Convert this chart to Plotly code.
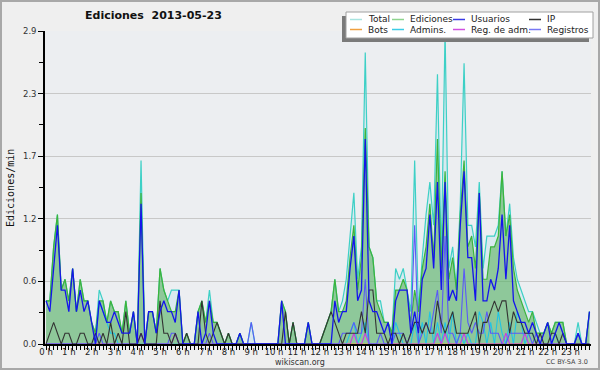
import plotly.graph_objects as go

# ---------------- data (edits per minute, 10-minute buckets) ----------------
hour_ticks = list(range(24))
hour_labels = [f"{h} h" for h in hour_ticks]
y_tick_vals = [0.0, 0.58, 1.16, 1.74, 2.32, 2.9]
y_tick_labels = ["0.0", "0.6", "1.2", "1.7", "2.3", "2.9"]

total = [
    .4, .4, .9, 1.2, .5, .6, .4, .7, .3, .6, .4, .4,
    .2, .1, .5, .4, .2, .4, .3, .3, .1, .4, .1, .3,
    0, 1.7, 0, .3, .3, .1, .7, .5, .4, .5, .5, .5,
    0, .1, 0, 0, .3, .4, .2, .5, .2, .2, .1, 0,
    .1, 0, 0, .1, 0, 0, .2, 0, 0, 0, 0, 0,
    0, 0, .4, .3, 0, .2, 0, 0, 0, .2, 0, 0,
    0, .1, .2, .3, .6, .3, .4, .6, 1.0, 1.4, .6, .9,
    2.7, .9, .8, .4, .4, .2, .2, .1, .7, .6, .7, .5,
    .3, 1.7, .3, .8, 1.2, 1.5, 1.1, 2.5, .8, 2.9, .7, .9,
    .5, 1.3, 2.6, 1.1, 1.1, .9, 1.5, .7, 1.0, 1.0, 1.0, 1.1,
    1.6, 1.0, 1.3, .8, .6, .5, .4, .3, .3, .2, .1, .1,
    .2, .1, .2, .2, .2, 0, 0, 0, .2, 0, 0, .3,
]
ediciones = [
    .4, .4, .9, 1.2, .5, .6, .4, .7, .3, .6, .4, .4,
    .2, .1, .4, .4, .2, .4, .3, .3, .1, .4, .1, .3,
    0, 1.4, 0, .3, .3, .1, .7, .5, .4, .3, .3, .5,
    0, .1, 0, 0, .3, .4, .2, .4, .2, .2, .1, 0,
    .1, 0, 0, .1, 0, 0, 0, 0, 0, 0, 0, 0,
    0, 0, .4, .3, 0, .2, 0, 0, 0, .2, 0, 0,
    0, .1, .2, .3, .6, .3, .3, .4, .8, 1.1, .5, .8,
    2.0, .9, .8, .4, .3, .2, .2, .1, .5, .5, .6, .5,
    .2, .5, .3, .7, .9, 1.3, .8, 1.9, .7, 1.6, .6, .8,
    .5, 1.2, 1.7, .9, 1.0, .7, 1.4, .6, .6, .9, .9, 1.0,
    1.6, 1.0, 1.2, .7, .5, .4, .3, .2, .3, .1, .1, .1,
    .2, .1, .2, .2, .2, 0, 0, 0, .1, 0, 0, .3,
]
usuarios = [
    .4, .3, .7, 1.1, .5, .5, .3, .7, .3, .5, .3, .4,
    .2, 0, .4, .3, .2, .2, .3, .2, .1, .1, .1, .3,
    0, 1.3, 0, .3, .3, .1, .3, .4, .3, .3, .2, .5,
    0, 0, 0, 0, .3, 0, .1, .4, .1, 0, 0, 0,
    0, 0, 0, .1, 0, 0, 0, 0, 0, 0, 0, 0,
    0, 0, .4, 0, 0, 0, 0, 0, 0, .2, 0, 0,
    0, 0, 0, 0, .4, .2, .3, .3, .7, 1.0, .4, .5,
    1.9, .4, .3, .3, .2, .1, .2, 0, .4, .5, .5, .5,
    .1, .3, .1, .6, .7, 1.2, .7, 1.5, .5, 1.5, .4, .5,
    .4, 1.1, 1.6, .8, .8, .4, 1.4, .4, .4, .6, .5, .7,
    1.2, .6, 1.1, .4, .3, .2, .2, .1, .2, .1, 0, .1,
    .2, 0, .1, .2, .1, 0, 0, 0, .1, 0, 0, .3,
]
ip = [
    0, .1, .2, .1, 0, .1, .1, 0, 0, .1, .1, 0,
    0, .1, 0, .1, 0, .2, 0, .1, 0, .3, 0, 0,
    0, .1, 0, 0, 0, 0, .4, .1, .1, 0, .1, 0,
    0, .1, 0, 0, 0, .4, .1, 0, .1, .2, .1, 0,
    .1, 0, 0, 0, 0, 0, 0, 0, 0, 0, 0, 0,
    0, 0, 0, .3, 0, .2, 0, 0, 0, 0, 0, 0,
    0, .1, .2, .3, .2, .1, 0, .1, .1, .1, .1, .3,
    .1, .5, .5, .1, .1, .1, 0, .1, .1, 0, .1, 0,
    .1, .2, .2, .1, .2, .1, .1, .4, .2, .1, .2, .3,
    .1, .1, .1, .1, .2, .3, 0, .2, .2, .3, .4, .3,
    .4, .4, .1, .3, .2, .2, .1, .1, .1, 0, .1, 0,
    0, .1, .1, 0, .1, 0, 0, 0, 0, 0, 0, 0,
]
bots = [
    0, 0, 0, 0, 0, 0, 0, 0, 0, 0, 0, 0, 0, 0, 0, 0, 0, 0, 0, 0, 0, 0, 0, 0,
    0, 0, 0, 0, 0, 0, 0, 0, 0, 0, 0, 0, 0, 0, 0, 0, 0, 0, 0, 0, 0, 0, 0, 0,
    0, 0, 0, 0, 0, 0, 0, 0, 0, 0, 0, 0, 0, 0, 0, 0, 0, 0, 0, 0, 0, 0, 0, 0,
    0, 0, 0, 0, 0, 0, 0, 0, 0, 0, 0, 0, 0, 0, 0, 0, 0, 0, 0, 0, 0, 0, 0, 0,
    0, 0, 0, 0, 0, 0, 0, 0, 0, 0, 0, 0, 0, 0, 0, 0, 0, 0, 0, 0, 0, 0, 0, 0,
    0, 0, 0, 0, 0, 0, 0, 0, 0, 0, 0, 0, 0, 0, 0, 0, 0, 0, 0, 0, 0, 0, 0, 0,
]
admins = [
    0, 0, 0, 0, 0, 0, 0, 0, 0, 0, 0, 0,
    0, 0, .4, .3, .2, .1, .1, 0, 0, 0, 0, 0,
    0, 0, 0, 0, 0, 0, 0, 0, 0, 0, 0, 0,
    0, 0, 0, 0, 0, 0, 0, 0, 0, 0, 0, 0,
    0, 0, 0, 0, 0, 0, 0, 0, 0, 0, 0, 0,
    0, 0, 0, 0, 0, 0, 0, 0, 0, 0, 0, 0,
    0, 0, 0, 0, 0, 0, 0, 0, .1, .2, 0, .1,
    .2, 0, 0, 0, 0, 0, 0, 0, .2, .1, 0, 0,
    0, .2, 0, .2, 0, .3, 0, .2, 0, .2, 0, .3,
    0, .1, 0, .1, 0, 0, .3, .2, 0, .2, 0, .3,
    .1, 0, .2, 0, .3, .2, 0, .1, .1, 0, 0, 0,
    0, 0, .1, 0, 0, 0, 0, 0, 0, 0, 0, 0,
]
reg_adm = [
    0, 0, 0, 0, 0, 0, 0, 0, 0, 0, 0, 0,
    0, 0, 0, 0, 0, 0, 0, 0, 0, 0, 0, 0,
    0, .1, 0, 0, 0, 0, 0, 0, 0, 0, .1, 0,
    0, 0, 0, 0, 0, 0, 0, 0, 0, 0, 0, 0,
    0, 0, 0, 0, 0, 0, 0, 0, 0, 0, 0, 0,
    0, 0, 0, 0, 0, 0, 0, 0, 0, 0, 0, 0,
    0, 0, 0, 0, 0, 0, 0, 0, 0, .1, 0, 0,
    .1, 0, 0, 0, 0, 0, 0, 0, 0, 0, 0, 0,
    0, 0, 0, 0, 0, 0, 0, .1, 0, .1, 0, 0,
    0, 0, .1, 0, 0, 0, 0, 0, 0, 0, 0, 0,
    0, .1, 0, 0, 0, 0, .1, 0, 0, 0, 0, 0,
    0, 0, 0, 0, 0, 0, 0, 0, 0, 0, 0, 0,
]
registros = [
    0, 0, 0, 0, 0, 0, 0, 0, 0, 0, 0, 0,
    0, 0, .1, 0, 0, 0, 0, 0, 0, 0, 0, 0,
    0, .1, 0, 0, 0, 0, 0, 0, 0, .1, .1, 0,
    0, 0, 0, 0, 0, 0, 0, .1, 0, 0, 0, 0,
    0, 0, 0, 0, 0, 0, .2, 0, 0, 0, 0, 0,
    0, 0, 0, 0, 0, 0, 0, 0, 0, 0, 0, 0,
    0, 0, 0, 0, 0, 0, .1, .1, .1, .2, .1, .1,
    .6, 0, 0, 0, .1, 0, 0, 0, .1, .1, .1, 0,
    .1, 1.1, 0, .1, .2, .1, .3, .5, .1, 1.0, .1, .1,
    0, .1, .7, .2, .1, .2, .1, .1, .3, .1, .1, .1,
    0, 0, .1, .1, .1, .1, .1, .1, 0, .1, 0, 0,
    0, 0, 0, 0, 0, 0, 0, 0, .1, 0, 0, 0,
]

legend_names = ["Total", "Ediciones", "Usuarios", "IP",
                "Bots", "Admins.", "Reg. de adm.", "Registros"]
legend_colors = ["#a8e4e0", "#8fd48f", "#3a3ae6", "#333333",
                 "#f0a040", "#3ccce6", "#d050e0", "#7878f4"]

# ---------------- figure ----------------
W, H = 600, 370
ML, MR, MT, MB = 45, 9, 31, 26
PW, PH = W - ML - MR, H - MT - MB

def fx(px):
    return (px - ML) / PW

def fy(py):
    return (H - MB - py) / PH

n = len(total)
x = [i / 6 for i in range(n)]

fig = go.Figure()

fig.add_trace(go.Scatter(x=x, y=total, mode="lines", name="Total",
                         line=dict(color="#3dd0c6", width=1.2),
                         fill="tozeroy", fillcolor="rgba(160,220,235,0.25)",
                         showlegend=False))
fig.add_trace(go.Scatter(x=x, y=ediciones, mode="lines", name="Ediciones",
                         line=dict(color="#3cb43c", width=1.2),
                         fill="tozeroy", fillcolor="rgba(60,165,60,0.48)",
                         showlegend=False))
fig.add_trace(go.Scatter(x=x, y=bots, mode="lines", name="Bots",
                         line=dict(color="#f0a040", width=1), showlegend=False))
fig.add_trace(go.Scatter(x=x, y=admins, mode="lines", name="Admins.",
                         line=dict(color="#22c4e4", width=1.1), showlegend=False))
fig.add_trace(go.Scatter(x=x, y=reg_adm, mode="lines", name="Reg. de adm.",
                         line=dict(color="#c83ee0", width=1.1), showlegend=False))
fig.add_trace(go.Scatter(x=x, y=registros, mode="lines", name="Registros",
                         line=dict(color="#5a5af6", width=1.1), showlegend=False))
fig.add_trace(go.Scatter(x=x, y=ip, mode="lines", name="IP",
                         line=dict(color="#333333", width=1.1), showlegend=False))
fig.add_trace(go.Scatter(x=x, y=usuarios, mode="lines", name="Usuarios",
                         line=dict(color="#1414ec", width=1.3), showlegend=False))

shapes = []
annotations = []

shapes.append(dict(type="rect", xref="paper", yref="paper",
                   x0=fx(1), x1=fx(599), y0=fy(369), y1=fy(1),
                   line=dict(color="#a8a8a8", width=2), fillcolor="rgba(0,0,0,0)",
                   layer="above"))

lx0, lx1, ly0, ly1 = 346, 593, 12, 38
shapes.append(dict(type="rect", xref="paper", yref="paper",
                   x0=fx(lx0 - 4), x1=fx(lx1 - 4), y0=fy(ly1 + 4), y1=fy(ly0 + 4),
                   line=dict(width=0), fillcolor="#7a7a7a", layer="above"))
shapes.append(dict(type="rect", xref="paper", yref="paper",
                   x0=fx(lx0), x1=fx(lx1), y0=fy(ly1), y1=fy(ly0),
                   line=dict(color="#a0a0a0", width=1), fillcolor="#ffffff", layer="above"))
col_sw = [350, 392, 453, 529]
col_tx = [366, 408, 469, 545]
row_y = [19.5, 29.5]
for k, (name, col) in enumerate(zip(legend_names, legend_colors)):
    r, c = divmod(k, 4)
    shapes.append(dict(type="line", xref="paper", yref="paper",
                       x0=fx(col_sw[c]), x1=fx(col_sw[c] + 12),
                       y0=fy(row_y[r]), y1=fy(row_y[r]),
                       line=dict(color=col, width=1.5), layer="above"))
    annotations.append(dict(text=name, xref="paper", yref="paper",
                            x=fx(col_tx[c]), y=fy(row_y[r]), xanchor="left", yanchor="middle",
                            showarrow=False,
                            font=dict(family="DejaVu Sans", size=9, color="#222222")))

annotations.append(dict(text="<b>Ediciones\u00a0\u00a02013-05-23</b>", xref="paper", yref="paper",
                        x=fx(153), y=fy(16), xanchor="center", yanchor="middle",
                        showarrow=False,
                        font=dict(family="DejaVu Sans", size=11, color="#111111")))
annotations.append(dict(text="Ediciones/min", xref="paper", yref="paper",
                        x=fx(10), y=fy(188), xanchor="center", yanchor="middle",
                        textangle=-90, showarrow=False,
                        font=dict(family="DejaVu Sans Mono", size=10, color="#111111")))
annotations.append(dict(text="wikiscan.org", xref="paper", yref="paper",
                        x=fx(300), y=fy(362), xanchor="center", yanchor="middle",
                        showarrow=False,
                        font=dict(family="DejaVu Sans", size=8, color="#333333")))
annotations.append(dict(text="CC BY-SA 3.0", xref="paper", yref="paper",
                        x=fx(590), y=fy(362), xanchor="right", yanchor="middle",
                        showarrow=False,
                        font=dict(family="DejaVu Sans", size=6.5, color="#444444")))

fig.update_layout(
    width=W, height=H,
    margin=dict(l=ML, r=MR, t=MT, b=MB),
    paper_bgcolor="#efefef",
    plot_bgcolor="#eceef1",
    showlegend=False,
    shapes=shapes,
    annotations=annotations,
    xaxis=dict(
        range=[-0.045, 23.9],
        tickmode="array", tickvals=hour_ticks, ticktext=hour_labels,
        ticks="outside", ticklen=4, tickwidth=1, tickcolor="#000000",
        showline=True, linecolor="#000000", linewidth=1.6,
        showgrid=False, zeroline=False,
        tickfont=dict(family="DejaVu Sans", size=8.5, color="#222222"),
        ticklabelstandoff=-5,
        minor=dict(dtick=1 / 6, tick0=0, ticks="outside", ticklen=4,
                   tickcolor="#000000", tickwidth=1, showgrid=False),
    ),
    yaxis=dict(
        range=[0, 2.9],
        tickmode="array", tickvals=y_tick_vals, ticktext=y_tick_labels,
        ticks="outside", ticklen=5, tickwidth=1, tickcolor="#000000",
        showline=True, linecolor="#000000", linewidth=1.6,
        showgrid=True, gridcolor="#c8c8c8", gridwidth=1, zeroline=False,
        tickfont=dict(family="DejaVu Sans", size=8.5, color="#333333"),
        minor=dict(dtick=0.29, tick0=0, ticks="outside", ticklen=4,
                   tickcolor="#000000", tickwidth=1, showgrid=False),
    ),
)

fig.write_html("out.html",
               config={"displayModeBar": False},
               post_script="document.body.style.margin='0px';document.body.style.padding='0px';")
